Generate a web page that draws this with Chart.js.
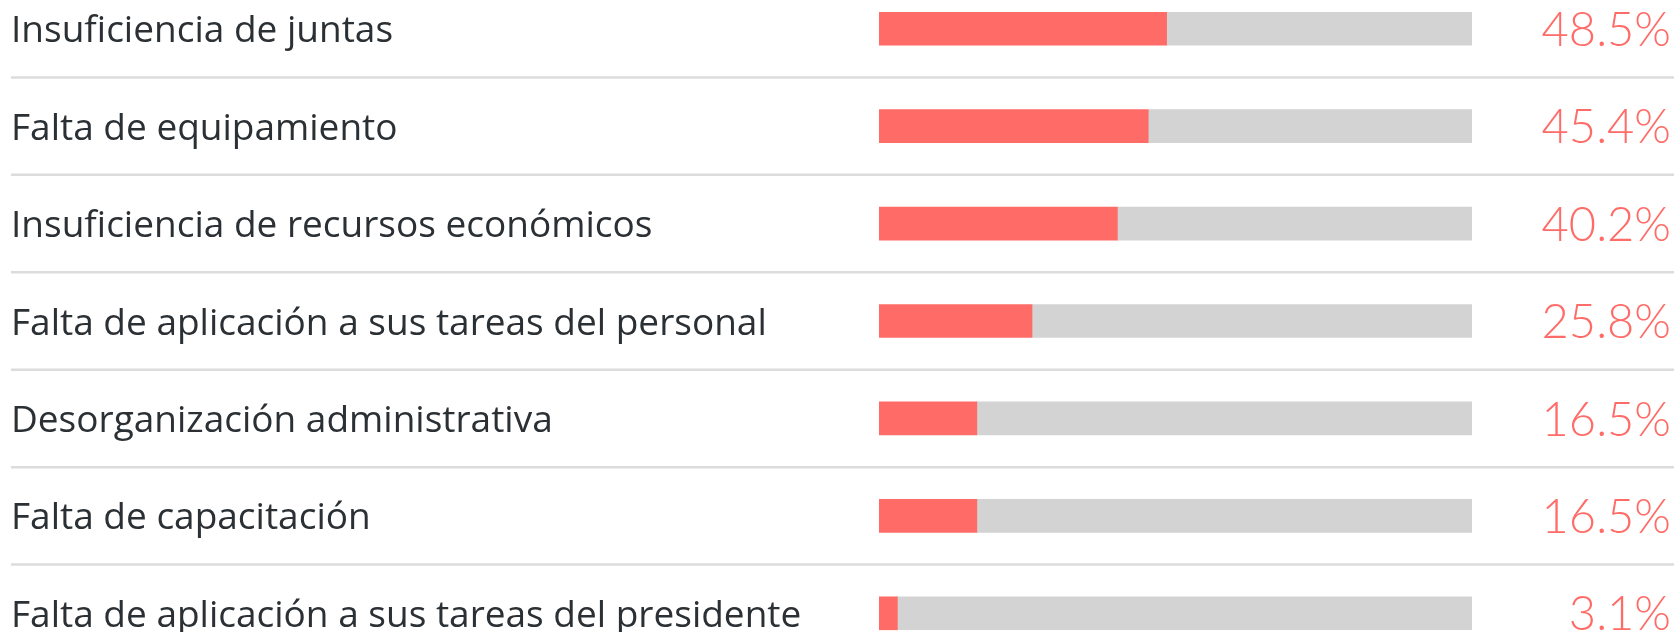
<!DOCTYPE html>
<html>
<head>
<meta charset="utf-8">
<script src="https://cdn.jsdelivr.net/npm/chart.js@4"></script>
<style>
    html, body { margin: 0; padding: 0; background: #fff; overflow: hidden; }
    #wrap { position: absolute; left: 0; top: -20px; width: 1677px; height: 682px; }
</style>
</head>
<body>
<div id="wrap"><canvas id="chart"></canvas></div>
<script>
// Data
const categories = [
    'Insuficiencia de juntas',
    'Falta de equipamiento',
    'Insuficiencia de recursos económicos',
    'Falta de aplicación a sus tareas del personal',
    'Desorganización administrativa',
    'Falta de capacitación',
    'Falta de aplicación a sus tareas del presidente'
];
const percentages = [48.5, 45.4, 40.2, 25.8, 16.5, 16.5, 3.1];
const valueLabels = ['48.5%', '45.4%', '40.2%', '25.8%', '16.5%', '16.5%', '3.1%'];
const scaleMax = 100;

const RED = '#ff6b66';
const GRAY = '#d3d3d3';

/**
 * Full-width separator lines between rows
 */
const separators = {
    id: 'separators',
    beforeDatasetsDraw(chart) {
        const ctx = chart.ctx;
        const y = chart.scales.y;
        ctx.save();
        ctx.strokeStyle = '#dcdcdc';
        ctx.lineWidth = 2.5;
        for (let i = 0; i < categories.length - 1; i++) {
            const yy = (y.getPixelForValue(i) + y.getPixelForValue(i + 1)) / 2;
            ctx.beginPath();
            ctx.moveTo(11, yy);
            ctx.lineTo(1674, yy);
            ctx.stroke();
        }
        ctx.restore();
    }
};

// fixed axis width, no extra padding for big tick labels
function fitAxis(width) {
    return function (scale) {
        scale.width = width;
        scale.paddingTop = 0;
        scale.paddingBottom = 0;
    };
}

new Chart(document.getElementById('chart'), {
    type: 'bar',
    data: {
        labels: categories,
        datasets: [
            {
                label: 'valor',
                data: percentages,
                backgroundColor: RED,
                barThickness: 33
            },
            {
                label: 'resto',
                data: percentages.map(v => scaleMax - v),
                backgroundColor: GRAY,
                barThickness: 33
            }
        ]
    },
    options: {
        indexAxis: 'y',
        responsive: true,
        maintainAspectRatio: false,
        animation: false,
        layout: {
            autoPadding: false,
            padding: { left: 11, right: 6, top: 0, bottom: 0 }
        },
        plugins: {
            legend: { display: false },
            tooltip: { enabled: false }
        },
        scales: {
            x: {
                stacked: true,
                min: 0,
                max: scaleMax,
                display: false
            },
            y: {
                stacked: true,
                position: 'left',
                grid: { display: false },
                border: { display: false },
                ticks: {
                    crossAlign: 'far',
                    labelOffset: 3,
                    color: '#2b3035',
                    font: { family: "'Open Sans'", size: 37 }
                },
                afterFit: fitAxis(868)
            },
            y2: {
                type: 'category',
                labels: valueLabels,
                position: 'right',
                offset: true,
                grid: { display: false },
                border: { display: false },
                ticks: {
                    crossAlign: 'far',
                    labelOffset: 2,
                    color: RED,
                    font: { family: 'Lato', size: 47, weight: '300' }
                },
                afterFit: fitAxis(199)
            }
        }
    },
    plugins: [separators]
});
</script>
</body>
</html>
